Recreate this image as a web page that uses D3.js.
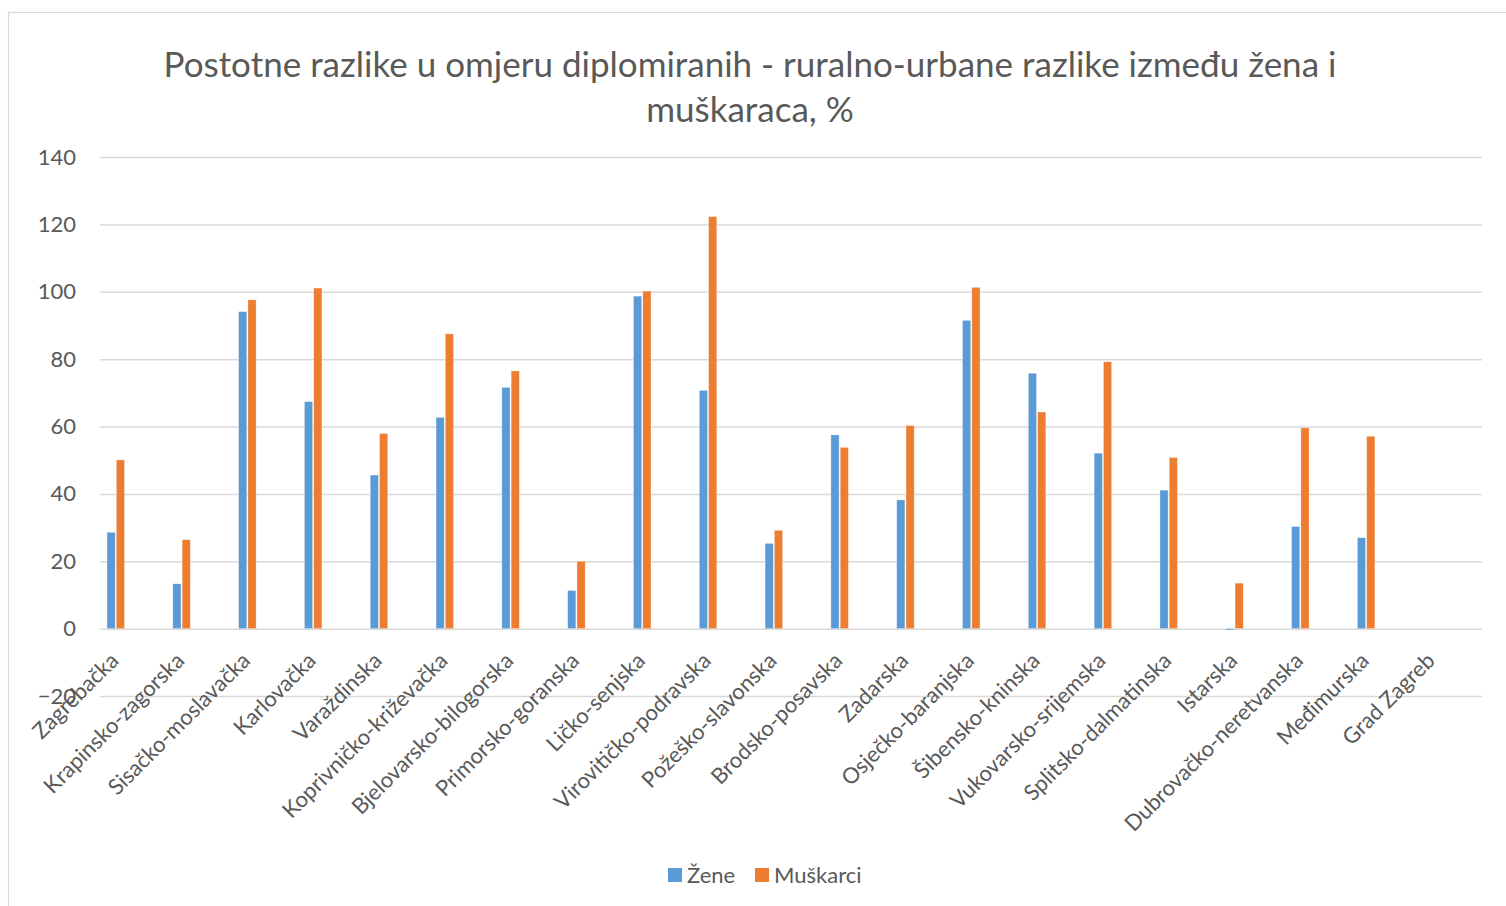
<!DOCTYPE html>
<html>
<head>
<meta charset="utf-8">
<script src="https://cdn.jsdelivr.net/npm/d3@7"></script>
<style>
    body { margin: 0; background: #ffffff; }
    text { font-family: Lato, "Open Sans", sans-serif; fill: #595959; }
</style>
</head>
<body>
<div id="chart"></div>
<script>

// counties (zupanije) along the x axis
var categories = ["Zagrebačka", "Krapinsko-zagorska", "Sisačko-moslavačka", "Karlovačka",
    "Varaždinska", "Koprivničko-križevačka", "Bjelovarsko-bilogorska", "Primorsko-goranska",
    "Ličko-senjska", "Virovitičko-podravska", "Požeško-slavonska", "Brodsko-posavska",
    "Zadarska", "Osječko-baranjska", "Šibensko-kninska", "Vukovarsko-srijemska",
    "Splitsko-dalmatinska", "Istarska", "Dubrovačko-neretvanska", "Međimurska", "Grad Zagreb"];

var seriesNames = ["Žene", "Muškarci"];

var zene = [28.6, 13.3, 94.1, 67.4, 45.6, 62.7, 71.6, 11.3, 98.7, 70.7, 25.3, 57.5,
    38.2, 91.5, 75.8, 52.1, 41.1, -0.4, 30.3, 27.0, null];
var muskarci = [50.1, 26.4, 97.6, 101.1, 57.9, 87.5, 76.5, 20.0, 100.2, 122.3, 29.2, 53.8,
    60.3, 101.3, 64.3, 79.2, 50.8, 13.5, 59.6, 57.1, null];

var yTicks = [-20, 0, 20, 40, 60, 80, 100, 120, 140];

var titleLines = ["Postotne razlike u omjeru diplomiranih - ruralno-urbane razlike između žena i",
    "muškaraca, %"];

var colors = ["#5b9bd5", "#ed7d31"];

var _width = 1506, _height = 906;
var _plotL = 100, _plotR = 1482, _plotT = 157, _plotB = 696;

var svg = d3.select("#chart").append("svg")
    .attr("width", _width)
    .attr("height", _height);

// chart frame - runs off the right and bottom edge in the original
svg.append("rect")
    .attr("x", 8.5).attr("y", 12.5)
    .attr("width", 1600).attr("height", 1000)
    .attr("fill", "#ffffff")
    .attr("stroke", "#d9d9d9")
    .attr("stroke-width", 1.2);

// title, two lines
svg.append("g").selectAll("text")
    .data(titleLines)
  .enter().append("text")
    .attr("x", 750)
    .attr("y", function(d, i) { return 77 + i * 45; })
    .attr("text-anchor", "middle")
    .style("font-size", "35px")
    .text(function(d) { return d; });

var y = d3.scaleLinear().domain([-20, 140]).range([_plotB, _plotT]);

var x0 = d3.scaleBand().domain(categories).range([_plotL, _plotR]);
// pair of bars sits in the left part of each band
var x1 = d3.scaleBand().domain(seriesNames).range([7, 24.5]).paddingInner(0.12);

// gridlines + y labels
var yAxis = d3.axisLeft(y)
    .tickValues(yTicks)
    .tickSize(-(_plotR - _plotL))
    .tickPadding(24);

var gy = svg.append("g")
    .attr("transform", "translate(" + _plotL + ",0)")
    .call(yAxis);
gy.select(".domain").remove();
gy.selectAll(".tick line").attr("stroke", "#d9d9d9").attr("stroke-width", 1.5);
gy.selectAll(".tick text")
    .style("font-size", "22px")
    .attr("fill", "#595959");

// bars
var rows = categories.map(function(c, i) {
    return { cat: c, vals: [zene[i], muskarci[i]] };
});

var groups = svg.append("g").selectAll("g")
    .data(rows)
  .enter().append("g")
    .attr("transform", function(d) { return "translate(" + x0(d.cat) + ",0)"; });

groups.selectAll("rect")
    .data(function(d) {
        return d.vals.map(function(v, j) { return { s: seriesNames[j], v: v, j: j }; })
            .filter(function(e) { return e.v != null; });
    })
  .enter().append("rect")
    .attr("x", function(d) { return x1(d.s); })
    .attr("y", function(d) { return y(Math.max(0, d.v)); })
    .attr("width", x1.bandwidth())
    .attr("height", function(d) { return Math.abs(y(d.v) - y(0)); })
    .attr("fill", function(d) { return colors[d.j]; })
    .attr("stroke", "#ffffff")
    .attr("stroke-opacity", 0.5)
    .attr("stroke-width", 0.6);

// category labels, rotated
svg.append("g").selectAll("text")
    .data(categories)
  .enter().append("text")
    .attr("transform", function(d) {
        var cx = x0(d) + x0.bandwidth() / 2 - 13;
        return "translate(" + cx + ",662) rotate(-45)";
    })
    .attr("text-anchor", "end")
    .style("font-size", "22px")
    .text(function(d) { return d; });

// legend
var legend = svg.append("g")
    .attr("transform", "translate(668,868)");

var li = legend.selectAll("g")
    .data(seriesNames)
  .enter().append("g")
    .attr("transform", function(d, i) { return "translate(" + (i * 87) + ",0)"; });

li.append("rect")
    .attr("width", 14).attr("height", 14)
    .attr("fill", function(d, i) { return colors[i]; });

li.append("text")
    .attr("x", 19)
    .attr("y", 15)
    .style("font-size", "22px")
    .text(function(d) { return d; });

</script>
</body>
</html>
